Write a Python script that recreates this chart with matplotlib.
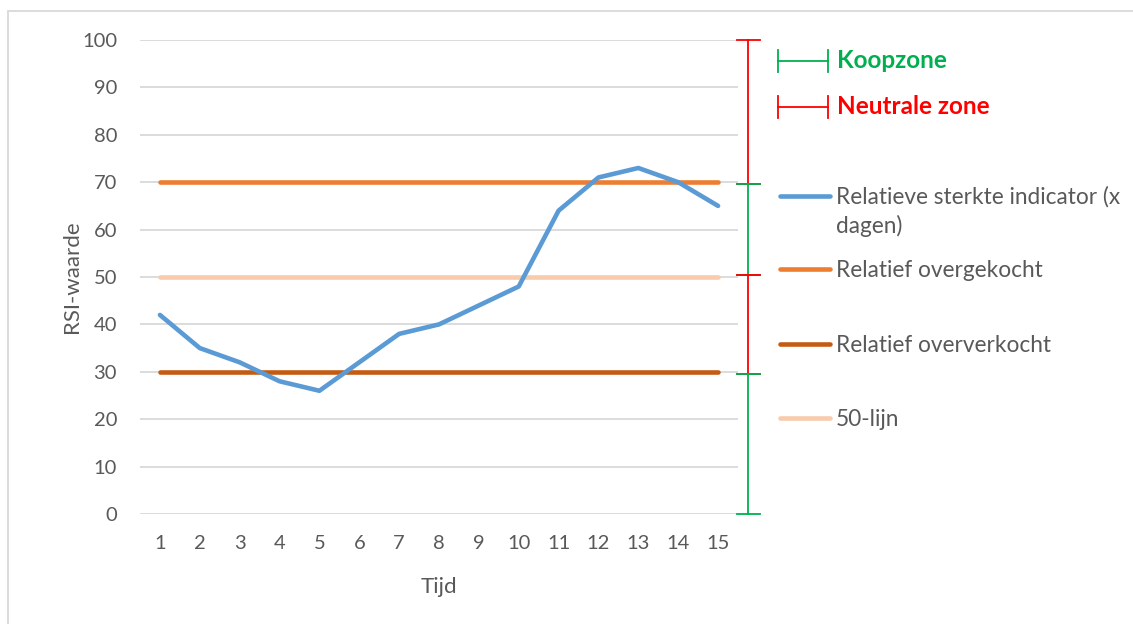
import matplotlib
matplotlib.use("Agg")
import matplotlib.pyplot as plt
from matplotlib.lines import Line2D
from matplotlib.patches import Rectangle
import matplotlib.transforms as mtransforms

plt.rcParams['font.family'] = ['Lato', 'DejaVu Sans']

# ---- data ----
tijd = list(range(1, 16))
rsi = [42, 35, 32, 28, 26, 32, 38, 40, 44, 48, 64, 71, 73, 70, 65]
overgekocht = [70] * 15
oververkocht = [30] * 15
lijn50 = [50] * 15
y_ticks = [0, 10, 20, 30, 40, 50, 60, 70, 80, 90, 100]
series_labels = ["Relatieve sterkte indicator (x\ndagen)", "Relatief overgekocht",
                 "Relatief oververkocht", "50-lijn"]
zone_labels = ["Koopzone", "Neutrale zone"]
# zones: (low, high, kind)
zones = [(70, 100, "neutraal"), (50, 70, "koop"), (30, 50, "neutraal"), (0, 30, "koop")]

W, H = 1133, 624
fig = plt.figure(figsize=(W / 100, H / 100), dpi=100)

def fx(px):
    return px / W

def fy(py):
    return 1 - py / H

TXT = "#595959"
GRID = "#d9d9d9"
BLUE = "#5B9BD5"
ORANGE = "#ED7D31"
DORANGE = "#C55A11"
PEACH = "#F8CBAD"
GREEN = "#00B050"
RED = "#FF0000"

# outer border (cropped chart frame)
fig.patches.append(Rectangle((fx(7.5), fy(640)), fx(1200), fy(11) - fy(640),
                             transform=fig.transFigure, fill=False,
                             edgecolor=GRID, lw=1.3))

ax = fig.add_axes([fx(140), fy(514), fx(738) - fx(140), fy(40) - fy(514)])
ax.set_xlim(0.5, 15.5)
ax.set_ylim(0, 100)
for s in ax.spines.values():
    s.set_visible(False)
ax.set_yticks(y_ticks)
ax.set_xticks(tijd)
ax.tick_params(length=0, labelsize=14.5, colors=TXT)
ax.tick_params(axis='y', pad=16.5)
ax.tick_params(axis='x', pad=15)
ax.yaxis.grid(True, color=GRID, lw=1.3)
ax.set_axisbelow(True)

lw = 3.3
ax.plot(tijd, overgekocht, color=ORANGE, lw=lw, solid_capstyle='round', zorder=3)
ax.plot(tijd, lijn50, color=PEACH, lw=lw, solid_capstyle='round', zorder=3)
ax.plot(tijd, oververkocht, color=DORANGE, lw=lw, solid_capstyle='round', zorder=3)
ax.plot(tijd, rsi, color=BLUE, lw=lw, solid_capstyle='round', zorder=4)

# axis titles
fig.text(fx(439), fy(593), "Tijd", fontsize=16, color=TXT, ha='center', va='baseline')
fig.text(fx(78), fy(277), "RSI-waarde", fontsize=16, color=TXT, ha='center',
         va='baseline', rotation=90, rotation_mode='anchor')

# zone brackets on the right
trans = mtransforms.blended_transform_factory(ax.transAxes, ax.transData)
xv = (748 - 140) / 598
xc0 = (737 - 140) / 598
xc1 = (760 - 140) / 598
for lo, hi, kind in zones:
    col = RED if kind == "neutraal" else GREEN
    off = 0.4
    if kind == "neutraal":
        lo_ = lo - off if lo > 0 else lo
        hi_ = hi + off if hi < 100 else hi
    else:
        lo_ = lo + off if lo > 0 else lo
        hi_ = hi - off if hi < 100 else hi
    ax.plot([xv, xv], [lo_, hi_], color=col, lw=1.3, transform=trans, clip_on=False)
    for yy in (lo_, hi_):
        ax.plot([xc0, xc1], [yy, yy], color=col, lw=1.3, transform=trans, clip_on=False)

# zone legend
for i, (lab, col) in enumerate(zip(zone_labels, [GREEN, RED])):
    yp = 61 + i * 46
    fig.add_artist(Line2D([fx(778), fx(828)], [fy(yp), fy(yp)], color=col, lw=1.3))
    for xp in (778, 828):
        fig.add_artist(Line2D([fx(xp), fx(xp)], [fy(yp - 11), fy(yp + 11)], color=col, lw=1.3))
    fig.text(fx(837), fy(yp + 7), lab, color=col, fontsize=17.5, fontweight='bold',
             va='baseline', ha='left')

# series legend
leg_cols = [BLUE, ORANGE, DORANGE, PEACH]
leg_y = [196, 269, 344, 418]
for lab, col, yp in zip(series_labels, leg_cols, leg_y):
    fig.add_artist(Line2D([fx(779.5), fx(829.5)], [fy(yp), fy(yp)], color=col, lw=lw,
                          solid_capstyle='round'))
    for k, line in enumerate(lab.split("\n")):
        fig.text(fx(836), fy(yp + 8 + 29 * k), line, color=TXT, fontsize=16.3,
                 va='baseline', ha='left')

fig.savefig("out.png", dpi=100)
